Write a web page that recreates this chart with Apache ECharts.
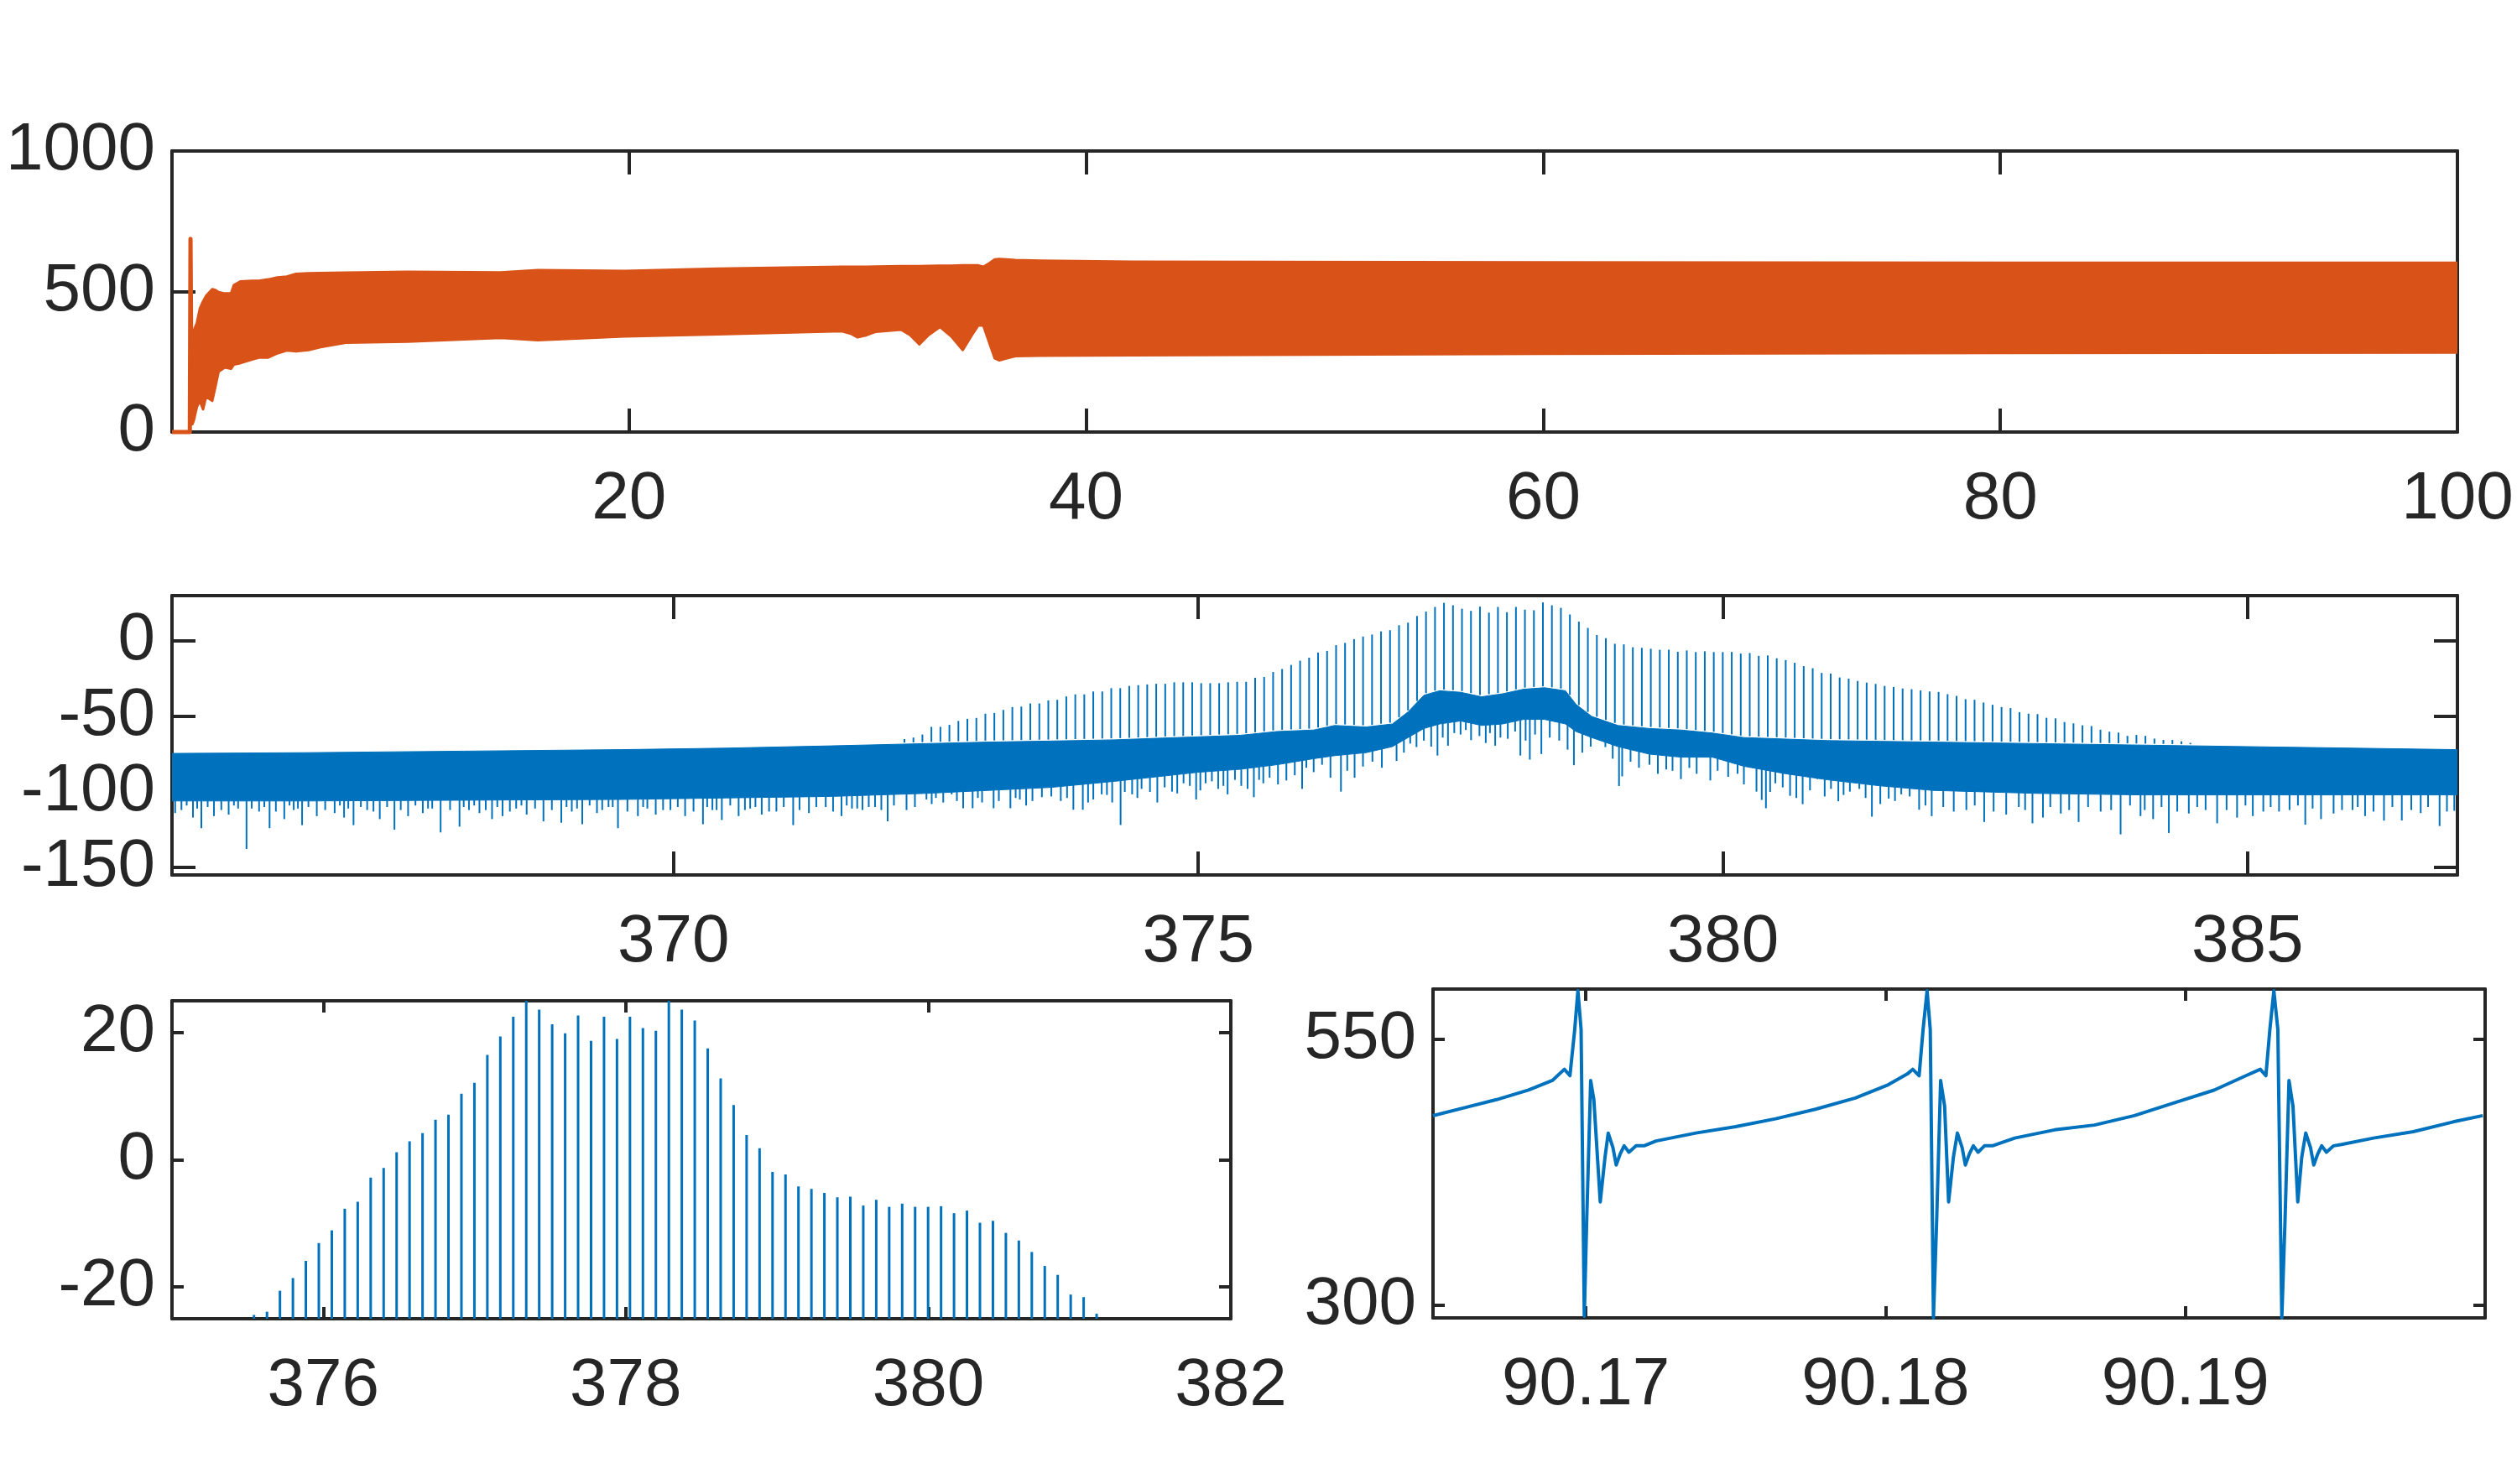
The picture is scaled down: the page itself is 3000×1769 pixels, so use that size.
<!DOCTYPE html>
<html>
<head>
	<meta charset="utf-8">
	<title>Signal, spectrum and zoomed waveform</title>
	<style>
		html, body { margin: 0; padding: 0; background: #fff; }
		#chart { width: 3000px; height: 1769px; }
	</style>
</head>
<body>
<div id="chart"></div>
<script src="https://cdn.jsdelivr.net/npm/echarts@6/dist/echarts.min.js"></script>
<script>
// ---- panel 1 : time signal 0..100 (envelope of the dense oscillation) ----
var p1StartT = [0, 0.78, 0.81, 0.86, 0.95];
var p1StartY = [0, 0, 687, 30, 360];
var p1T  = [0.9, 0.95, 1.09, 1.22, 1.36, 1.49, 1.76, 1.9, 2.04, 2.31, 2.58, 2.71, 2.99, 3.5, 3.8, 4.21, 4.61, 5.02, 5.43, 5.97, 6.5, 7.6, 10.31, 14.38, 16.01, 19.81, 23.88, 29.31, 29.7, 30.0, 30.4, 30.8, 31.9, 32.3, 32.7, 33.1, 33.6, 34.1, 34.6, 35.0, 35.28, 35.5, 35.75, 36.0, 36.2, 36.5, 36.9, 38, 42, 60, 80, 100];
var p1Hi = [320, 360, 389, 439, 465, 484, 508, 505, 498, 493, 493, 523, 536, 538, 538, 543, 550, 553, 563, 565, 566, 567, 570, 568, 576, 573, 581, 588, 588, 588, 588, 589, 590, 590, 590, 591, 592, 592, 593, 593, 593, 588, 600, 614, 616, 614, 612, 610, 606, 604, 602, 602];
var p1Lo = [30, 40, 90, 111, 81, 126, 111, 161, 215, 230, 225, 240, 245, 258, 265, 265, 280, 290, 287, 292, 302, 318, 322, 335, 327, 340, 348, 359, 350, 337, 345, 357, 364, 345, 312, 345, 374, 340, 292, 345, 379, 379, 320, 262, 255, 262, 270, 272, 273, 278, 281, 283];
var p1XTicks = [20, 40, 60, 80, 100];
var p1YTicks = [0, 500, 1000];

// ---- panel 2 : spectrum 365..387 ----
var p2X   = [365.22, 366.5, 368, 369.5, 370.5, 371.5, 372.4, 373.0, 373.6, 374.2, 374.6, 375.0, 375.4, 375.75, 376.1, 376.3, 376.6, 376.85, 377.0, 377.15, 377.3, 377.5, 377.7, 377.9, 378.1, 378.3, 378.5, 378.6, 378.75, 379.0, 379.3, 379.6, 379.9, 380.2, 380.6, 381.0, 381.5, 382.0, 383.0, 384.0, 385.0, 386.0, 387.0];
var p2Top = [-74.5, -74, -73, -72, -71, -69.5, -68, -67, -66.3, -65.5, -64.5, -63.5, -62.5, -60, -59, -56, -57, -55, -47, -36, -33, -34, -37, -35, -32, -31, -33, -42, -50, -56, -58, -59, -61, -64, -65, -66, -66.5, -67, -68, -69, -70, -71, -72];
var p2Bot = [-106, -106, -105.5, -105, -104, -103, -101, -99, -97, -93, -90, -87, -85, -82, -78, -76, -74, -70, -64, -58, -55, -53, -56, -55, -52, -52, -55, -60, -64, -70, -75, -77, -77, -83, -88, -92, -96, -99, -101, -102, -102, -102, -102];
// deeper noise dips under the floor
var p2DipX = [365.25, 365.31, 365.42, 365.5, 365.62, 365.76, 365.85, 365.93, 366.05, 366.15, 366.29, 366.38, 366.46, 366.6, 366.77, 366.86, 366.95, 367.08, 367.2, 367.34, 367.47, 367.61, 367.7, 367.78, 367.96, 368.05, 368.15, 368.27, 368.37, 368.5, 368.6, 368.76, 368.93, 369.03, 369.13, 369.27, 369.38, 369.47, 369.66, 369.75, 369.83, 369.97, 370.11, 370.28, 370.37, 370.46, 370.62, 370.73, 370.84, 370.98, 371.14, 371.29, 371.45, 371.6, 371.7, 371.8, 371.92, 372.04, 372.22, 372.41, 372.46, 372.57, 372.65, 372.76, 372.85, 372.94, 373.05, 373.21, 373.3, 373.36, 373.51, 373.69, 373.81, 373.9, 374.0, 374.08, 374.18, 374.26, 374.37, 374.46, 374.61, 374.75, 374.86, 374.98, 375.07, 375.19, 375.28, 375.41, 375.53, 375.62, 375.68, 375.84, 375.99, 376.1, 376.26, 376.36, 376.49, 376.57, 376.89, 377.08, 377.28, 377.38, 377.5, 377.6, 377.74, 377.83, 377.95, 378.07, 378.16, 378.27, 378.58, 378.88, 379.01, 379.04, 379.46, 379.6, 379.68, 379.88, 380.32, 380.37, 380.41, 380.5, 380.64, 380.76, 380.9, 381.1, 381.21, 381.3, 381.42, 381.58, 381.7, 381.87, 381.99, 382.2, 382.49, 382.7, 382.95, 383.05, 383.22, 383.39, 383.6, 383.79, 383.98, 384.1, 384.25, 384.44, 384.6, 384.71, 384.9, 385.05, 385.3, 385.55, 385.7, 385.82, 386.0, 386.12, 386.3, 386.47, 386.65, 386.83, 386.97];
var p2DipY = [-114, -112, -117, -124, -116, -115, -111, -137.8, -113, -124, -118, -112, -122, -116, -114, -117, -122, -112, -118, -125, -116, -114, -111, -126.8, -123, -112, -114, -118, -116, -111, -115, -119.5, -120.4, -113, -121.4, -114, -110, -124, -116, -111, -115, -112, -116, -121.4, -112, -118.6, -116, -111, -115, -113, -122, -114, -110, -116, -111, -112, -110, -119.5, -112, -105, -108, -107, -101.6, -110.8, -110.8, -107, -110.8, -110.8, -105, -109, -103.5, -106, -111.8, -111.8, -105, -101.6, -107, -121.9, -101.6, -98, -107, -99.8, -94.3, -105, -94.3, -98, -101.6, -96, -103.5, -94.3, -90.6, -92.4, -98, -86.9, -90.6, -99.8, -90.6, -83.2, -79.5, -70.3, -75.9, -69.4, -62, -65.7, -67.6, -69.4, -64.8, -75.9, -78.6, -74.9, -82.3, -70.3, -96.1, -89.7, -85.1, -91.5, -84.1, -92.4, -99.8, -105.3, -110.8, -94.3, -102.6, -108.1, -91.5, -106.2, -99.8, -98, -116.4, -104.4, -101.6, -111.8, -116, -113, -119.9, -115, -120.8, -117, -114.3, -119.9, -113, -128.1, -116, -118, -127.2, -114.3, -112, -120.8, -117, -116, -113, -121.7, -118, -114.3, -112, -116, -119, -118.9, -114, -122.6, -112.5];
// shallow fringe of the noise floor
var p2FringeX = [365.36, 365.46, 365.56, 365.69, 365.81, 365.98, 366.1, 366.21, 366.34, 366.42, 366.52, 366.68, 366.82, 366.9, 367.02, 367.14, 367.27, 367.4, 367.54, 367.66, 367.87, 368.0, 368.1, 368.21, 368.32, 368.44, 368.55, 368.68, 368.84, 368.98, 369.08, 369.2, 369.32, 369.42, 369.56, 369.71, 369.9, 370.04, 370.19, 370.32, 370.41, 370.54, 370.68, 370.78, 370.91, 371.05, 371.2, 371.36, 371.52, 371.65, 371.75, 371.86, 371.98, 372.1, 372.3,
	372.5, 372.7, 372.9, 373.1, 373.26, 373.42, 373.6, 373.75, 373.95, 374.13, 374.3, 374.42, 374.54, 374.68, 374.8, 374.92, 375.02, 375.13, 375.24, 375.35, 375.47, 375.58, 375.76, 375.92,
	376.03, 376.18, 376.42, 376.66, 376.75, 376.96, 377.02, 377.15, 377.22, 377.33, 377.44, 377.55, 377.68, 377.78, 377.88, 378.02, 378.12, 378.21, 378.35, 378.44, 378.52, 378.66, 378.74, 378.95, 379.12, 379.2, 379.3, 379.38, 379.52, 379.75, 379.95, 380.05, 380.14,
	380.2, 380.45, 380.57, 380.7, 380.83, 380.97, 381.03, 381.15, 381.36, 381.5, 381.64, 381.78, 381.93,
	382.1, 382.32, 382.4, 382.58, 382.82, 382.88, 383.12, 383.3, 383.48, 383.7, 383.88, 384.02, 384.18, 384.33, 384.52, 384.8, 384.98, 385.15, 385.22, 385.4, 385.48, 385.62, 385.9, 386.05, 386.2, 386.38, 386.56, 386.72, 386.9];
var p2FringeY = [-109, -111, -110, -112, -109, -111, -110, -113, -109, -111, -110, -112, -109, -111, -110, -113, -110, -112, -109, -111, -112, -110, -109, -112, -110, -113, -109, -111, -112, -110, -111, -109, -112, -110, -113, -110, -112, -110, -113, -110, -112, -109, -112, -110, -113, -110, -112, -110, -113, -109, -111, -110, -112, -109, -110,
	-104, -106, -104, -106, -104, -106, -103, -104, -107, -102, -100, -104, -100, -97, -101, -96, -99, -93, -96, -92, -98, -92, -95, -89,
	-84, -82, -86, -80, -84, -74, -68, -66, -70, -64, -61, -59, -63, -61, -64, -60, -66, -62, -64, -66, -72, -74, -70, -78, -80, -84, -82, -88, -86, -88, -86, -90, -88,
	-95, -100, -97, -104, -99, -103, -98, -102, -104, -108, -106, -103, -109,
	-110, -112, -109, -113, -110, -112, -110, -112, -110, -112, -109, -112, -110, -113, -110, -112, -109, -113, -110, -112, -109, -111, -112, -110, -113, -110, -112, -110, -113];
// harmonic lines: first line at 372.20, spacing 0.0857
var harmStart = 372.20;
var harmStep = 0.0857;
var harmPeak = [-65, -64, -62,
	-56.9, -56.9, -55.6, -53.0, -51.6, -51.0, -48.2, -47.7, -45.7, -43.8, -43.5, -41.4, -41.4, -39.4, -39.0, -36.8, -35.4, -35.4,
	-33.5, -33.5, -31.3, -31.3, -29.8, -29.3, -28.8, -28.4, -28.4, -27.4, -27.4, -27.4, -28.0, -28.0, -28.0, -27.4, -27.1, -27.1,
	-24.4, -23.9, -20.6, -18.6, -15.9, -13.1, -11.1, -7.7, -6.6, -2.8, -1.3, 1.2, 2.9, 4.2, 6.3, 7.1, 10.4, 12.1, 16.5, 19.4,
	22.5, 25.2, 23.6, 21.3, 19.9, 22.7, 18.7, 22.5, 19.0, 22.5, 20.7, 20.3, 25.5, 23.6, 21.9, 17.5, 12.8, 8.6, 3.9, 1.8,
	-1.9, -2.3, -4.2, -4.6, -5.2, -5.9, -5.8, -7.2, -6.3, -7.4, -6.9, -7.4, -7.4, -7.3, -8.4, -8.0, -9.9, -9.6, -11.5, -12.7,
	-14.5, -16.7, -18.1, -21.2, -21.6, -24.2, -25.0,
	-26.5, -27.6, -28.5, -29.8, -30.5, -31.5, -32.0, -32.8, -33.5, -33.8, -35.3, -36.4, -38.6, -39.0, -40.8, -42.3, -43.8, -44.5,
	-47.2, -48.2, -48.5, -50.9, -51.3, -53.7, -54.6, -55.9, -56.4, -58.8, -60.1, -60.7, -62.9, -62.3, -62.9, -64.7, -65.6, -65.6, -66.5, -67.5];
var p2XTicks = [370, 375, 380, 385];
var p2YTicks = [-150, -100, -50, 0];

// ---- panel 3 : spectrum zoom 375..382 (same harmonic lines) ----
var p3XTicks = [376, 378, 380, 382];
var p3YTicks = [-20, 0, 20];

// ---- panel 4 : waveform zoom ----
var p4T = [90.164894, 90.165957, 90.167021, 90.168085, 90.168883, 90.169282, 90.169468, 90.169628, 90.169734, 90.169840, 90.169947,
	90.170027, 90.170160, 90.170266, 90.170479, 90.170638, 90.170745, 90.170904, 90.171011, 90.171144, 90.171277, 90.171436,
	90.171676, 90.171941, 90.172340, 90.173670, 90.175000, 90.176330, 90.177660, 90.178989, 90.180053, 90.180718, 90.180904,
	90.181117, 90.181250, 90.181383, 90.181489, 90.181596, 90.181702, 90.181835, 90.181968, 90.182101, 90.182261, 90.182394,
	90.182553, 90.182660, 90.182793, 90.182926, 90.183085, 90.183298, 90.183564, 90.184309, 90.185638, 90.186968, 90.188298,
	90.189628, 90.190957, 90.192021, 90.192500, 90.192686, 90.192819, 90.192952, 90.193085, 90.193218, 90.193324, 90.193457,
	90.193590, 90.193750, 90.193883, 90.194016, 90.194176, 90.194282, 90.194415, 90.194548, 90.194707, 90.194947, 90.195213,
	90.196277, 90.197606, 90.198936, 90.199920];
var p4V = [478, 485.6, 493.1, 502.1, 511.1, 521.6, 515.6, 559, 595.5, 559, 289.5,
	379, 511, 493, 397, 439, 461.7, 448, 431.7, 442, 449.7, 443.7,
	449.7, 449.7, 454.2, 461.7, 467.7, 475.1, 484.1, 494.6, 506.6, 517.1, 521.6,
	515.6, 559, 595.5, 559, 288, 379, 511, 487, 397, 439, 461.7,
	448, 431.7, 442, 449.7, 443.7, 449.7, 449.7, 457, 464.7, 469.2, 478.1,
	490.1, 502, 515.6, 521.6, 515.6, 559, 595.5, 559, 288, 379, 511,
	487, 397, 439, 461.7, 448, 431.7, 442, 449.7, 443.7, 449.7, 451,
	457, 463, 472.2, 478.1];
var p4XTicks = [90.17, 90.18, 90.19];
var p4YTicks = [300, 550];

var INK = '#262626';
var BLUE = '#0072BD';
var ORANGE = '#D95319';
var FONT = '"Liberation Sans", Arial, Helvetica, sans-serif';

function interp(xs, ys, x) {
	if (x <= xs[0]) return ys[0];
	for (var i = 1; i < xs.length; i++) {
		if (x <= xs[i]) {
			var f = (x - xs[i - 1]) / (xs[i] - xs[i - 1]);
			return ys[i - 1] + f * (ys[i] - ys[i - 1]);
		}
	}
	return ys[ys.length - 1];
}

function fmt(v) {
	return String(Math.round(v * 1e6) / 1e6);
}

// bottom/left axis with labels + mirrored top/right axis (box with ticks)
function axisPair(kind, gi, min, max, ticks, tickLen, labelMargin) {
	var list = [];
	for (var k = 0; k < 2; k++) {
		list.push({
			type: 'value',
			gridIndex: gi,
			min: min,
			max: max,
			position: kind === 'x' ? (k === 0 ? 'bottom' : 'top') : (k === 0 ? 'left' : 'right'),
			axisLine: { show: true, onZero: false, lineStyle: { color: INK, width: 4 } },
			axisTick: { show: true, inside: true, length: tickLen, customValues: ticks, lineStyle: { color: INK, width: 4 } },
			axisLabel: {
				show: k === 0,
				customValues: ticks,
				margin: labelMargin,
				color: INK,
				fontSize: 80,
				fontFamily: FONT,
				formatter: fmt
			},
			splitLine: { show: false }
		});
	}
	return list;
}

// filled band between lo and hi
function bandSeries(ai, xs, lo, hi, color, stroke) {
	return {
		type: 'custom',
		xAxisIndex: ai,
		yAxisIndex: ai,
		clip: true,
		silent: true,
		data: xs.map(function (x, i) { return [x, lo[i], hi[i]]; }),
		renderItem: function (params, api) {
			if (params.dataIndex !== 0) return null;
			var top = [], bot = [];
			for (var i = 0; i < xs.length; i++) {
				top.push(api.coord([xs[i], hi[i]]));
				bot.unshift(api.coord([xs[i], lo[i]]));
			}
			return {
				type: 'polygon',
				shape: { points: top.concat(bot) },
				style: { fill: color, stroke: color, lineWidth: stroke, lineJoin: 'round' }
			};
		}
	};
}

// vertical segments [x, from, to]
function segSeries(ai, segs, color, width) {
	return {
		type: 'custom',
		xAxisIndex: ai,
		yAxisIndex: ai,
		clip: true,
		silent: true,
		data: segs,
		renderItem: function (params, api) {
			var a = api.coord([api.value(0), api.value(1)]);
			var b = api.coord([api.value(0), api.value(2)]);
			return {
				type: 'line',
				shape: { x1: a[0], y1: a[1], x2: b[0], y2: b[1] },
				style: { stroke: color, lineWidth: width }
			};
		}
	};
}

// build segments
var harmX = harmPeak.map(function (v, i) { return harmStart + i * harmStep; });
var p2Harm = [], p3Harm = [];
harmPeak.forEach(function (v, i) {
	var x = harmX[i];
	var base = interp(p2X, p2Top, x);
	if (v > base) p2Harm.push([x, base + 1, v]);
	if (x > 375 && x < 382) p3Harm.push([x, -40, v]);
});
function hangFromFloor(xs, ys) {
	return xs.map(function (x, i) { return [x, interp(p2X, p2Bot, x) + 2, ys[i]]; });
}
var p2Dips = hangFromFloor(p2DipX, p2DipY).concat(hangFromFloor(p2FringeX, p2FringeY));

var axes1 = { x: axisPair('x', 0, 0, 100, p1XTicks, 28, 41), y: axisPair('y', 0, 0, 1000, p1YTicks, 28, 20) };
var axes2 = { x: axisPair('x', 1, 365.22, 387.0, p2XTicks, 28, 41), y: axisPair('y', 1, -155, 30, p2YTicks, 28, 20) };
var axes3 = { x: axisPair('x', 2, 375, 382, p3XTicks, 14, 41), y: axisPair('y', 2, -25, 25, p3YTicks, 14, 20) };
var axes4 = { x: axisPair('x', 3, 90.1649, 90.2, p4XTicks, 14, 41), y: axisPair('y', 3, 288, 597, p4YTicks, 14, 20) };

var option = {
	animation: false,
	backgroundColor: '#fff',
	grid: [
		{ left: 205, top: 180, width: 2724, height: 335, outerBoundsMode: 'none' },
		{ left: 205, top: 710, width: 2724, height: 333, outerBoundsMode: 'none' },
		{ left: 205, top: 1193, width: 1262, height: 379, outerBoundsMode: 'none' },
		{ left: 1708, top: 1179, width: 1254, height: 392, outerBoundsMode: 'none' }
	],
	xAxis: [].concat(axes1.x, axes2.x, axes3.x, axes4.x),
	yAxis: [].concat(axes1.y, axes2.y, axes3.y, axes4.y),
	series: [
		bandSeries(0, p1T, p1Lo, p1Hi, ORANGE, 3),
		{
			type: 'line',
			xAxisIndex: 0,
			yAxisIndex: 0,
			clip: false,
			symbol: 'none',
			silent: true,
			lineStyle: { color: ORANGE, width: 5, join: 'round' },
			data: p1StartT.map(function (t, i) { return [t, p1StartY[i]]; })
		},
		bandSeries(2, p2X, p2Bot, p2Top, BLUE, 1),
		segSeries(2, p2Dips, BLUE, 2),
		segSeries(2, p2Harm, BLUE, 2),
		segSeries(4, p3Harm, BLUE, 3),
		{
			type: 'line',
			xAxisIndex: 6,
			yAxisIndex: 6,
			clip: true,
			symbol: 'none',
			silent: true,
			lineStyle: { color: BLUE, width: 4, join: 'round' },
			data: p4T.map(function (t, i) { return [t, p4V[i]]; })
		}
	]
};

var myChart = echarts.init(document.getElementById('chart'));
myChart.setOption(option);
</script>
</body>
</html>
